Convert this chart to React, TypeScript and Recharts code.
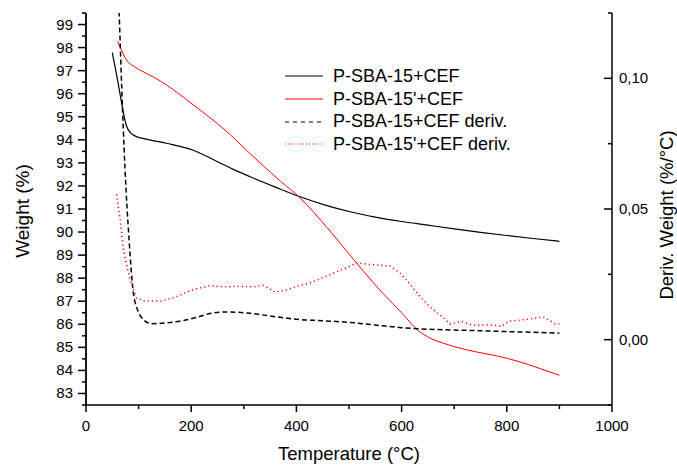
import React from 'react';
import { LineChart, Line, XAxis, YAxis, Legend } from 'recharts';

const FONT = '"Liberation Sans", Arial, Helvetica, sans-serif';

// P-SBA-15+CEF weight (%)
const tempW1 = [50, 55, 60, 65, 70, 77, 85, 95, 110, 153, 204, 250, 280, 312, 360, 407, 455, 502, 550, 597, 650, 700, 750, 800, 850, 900];
const weightW1 = [97.78, 97.2, 96.6, 95.95, 95.3, 94.6, 94.3, 94.15, 94.05, 93.85, 93.55, 93.05, 92.72, 92.4, 91.95, 91.53, 91.17, 90.88, 90.65, 90.47, 90.3, 90.14, 89.99, 89.85, 89.72, 89.6];

// P-SBA-15'+CEF weight (%)
const tempW2 = [60, 66, 77, 90, 109, 130, 153, 185, 217, 250, 280, 312, 331, 370, 407, 460, 515, 565, 600, 632, 650, 686, 736, 781, 825, 863, 900];
const weightW2 = [98.28, 97.97, 97.46, 97.2, 96.95, 96.7, 96.38, 95.85, 95.29, 94.7, 94.1, 93.4, 93.0, 92.2, 91.48, 90.15, 88.64, 87.33, 86.5, 85.72, 85.45, 85.13, 84.83, 84.63, 84.37, 84.08, 83.79];

// P-SBA-15+CEF deriv. (%/°C)
const tempD1 = [58, 63, 68, 74, 82, 90, 100, 109, 125, 150, 185, 210, 236, 267, 312, 356, 407, 455, 502, 550, 600, 650, 700, 750, 800, 850, 900];
const derivD1 = [0.15, 0.125, 0.096, 0.066, 0.038, 0.018, 0.0105, 0.0077, 0.0061, 0.0064, 0.0073, 0.0085, 0.01, 0.0106, 0.0101, 0.0089, 0.0077, 0.0072, 0.0066, 0.0056, 0.0046, 0.004, 0.0037, 0.0034, 0.0031, 0.0028, 0.0025];

// P-SBA-15'+CEF deriv. (%/°C)
const tempD2 = [58, 65, 71, 78, 84, 96, 109, 141, 166, 204, 236, 261, 293, 318, 337, 359, 381, 407, 426, 464, 502, 515, 544, 578, 597, 615, 635, 654, 679, 692, 714, 736, 768, 790, 803, 844, 869, 892, 900];
const derivD2 = [0.0556, 0.046, 0.0345, 0.028, 0.023, 0.016, 0.0149, 0.0147, 0.016, 0.0192, 0.0207, 0.0202, 0.0204, 0.0202, 0.0208, 0.0182, 0.019, 0.0208, 0.0217, 0.0249, 0.0281, 0.0294, 0.0287, 0.0282, 0.0255, 0.0215, 0.0165, 0.0125, 0.0085, 0.006, 0.007, 0.0055, 0.0057, 0.0051, 0.007, 0.0079, 0.0087, 0.0061, 0.006];

const seriesNames = ['P-SBA-15+CEF', "P-SBA-15'+CEF", 'P-SBA-15+CEF deriv.', "P-SBA-15'+CEF deriv."];

const xTicks = [0, 100, 200, 300, 400, 500, 600, 700, 800, 900, 1000];
const leftTicks = [82.5, 83, 83.5, 84, 84.5, 85, 85.5, 86, 86.5, 87, 87.5, 88, 88.5, 89, 89.5, 90, 90.5, 91, 91.5, 92, 92.5, 93, 93.5, 94, 94.5, 95, 95.5, 96, 96.5, 97, 97.5, 98, 98.5, 99, 99.5];
const rightTicks = [-0.025, 0, 0.025, 0.05, 0.075, 0.1, 0.125];

const zip = (ts: number[], vs: number[]) => ts.map((t, i) => ({ t, v: vs[i] }));
const dataW1 = zip(tempW1, weightW1);
const dataW2 = zip(tempW2, weightW2);
const dataD1 = zip(tempD1, derivD1);
const dataD2 = zip(tempD2, derivD2);

const near = (a: number, b: number) => Math.abs(a - b) < 1e-6;

const BottomTick = (props: any) => {
  const { x, y, payload } = props;
  const v = payload.value;
  const major = near(v / 200, Math.round(v / 200));
  return (
    <g>
      <line x1={x} x2={x} y1={y} y2={y + (major ? 7 : 4)} stroke="#000" strokeWidth={1.5} />
      {major && (
        <text x={x} y={y + 26} textAnchor="middle" fontSize={15} fontFamily={FONT} fill="#000">
          {v}
        </text>
      )}
    </g>
  );
};

const LeftTick = (props: any) => {
  const { x, y, payload } = props;
  const v = payload.value;
  const major = near(v, Math.round(v));
  return (
    <g>
      <line x1={x} x2={x - (major ? 8 : 4)} y1={y} y2={y} stroke="#000" strokeWidth={1.5} />
      {major && (
        <text x={x - 13} y={y + 5} textAnchor="end" fontSize={15} fontFamily={FONT} fill="#000">
          {Math.round(v)}
        </text>
      )}
    </g>
  );
};

const RightTick = (props: any) => {
  const { x, y, payload } = props;
  const v = payload.value;
  const major = near(v / 0.05, Math.round(v / 0.05));
  return (
    <g>
      <line x1={x} x2={x - (major ? 8 : 4)} y1={y} y2={y} stroke="#000" strokeWidth={1.5} />
      {major && (
        <text x={x + 7} y={y + 5} textAnchor="start" fontSize={15} fontFamily={FONT} fill="#000">
          {v.toFixed(2).replace('.', ',')}
        </text>
      )}
    </g>
  );
};

const legendStyles = [
  { stroke: '#000', dash: undefined as string | undefined, w: 1.2 },
  { stroke: '#ff0000', dash: undefined as string | undefined, w: 1 },
  { stroke: '#000', dash: '4 4', w: 1.2 },
  { stroke: '#ff0000', dash: '1 2', w: 1.2 },
];

const renderLegend = () => (
  <div style={{ fontFamily: FONT, fontSize: 18, color: '#000' }}>
    {seriesNames.map((name, i) => (
      <div key={name} style={{ height: 22.7, display: 'flex', alignItems: 'center', whiteSpace: 'nowrap' }}>
        <svg width={48} height={10} style={{ display: 'block' }}>
          <line x1={0} x2={38} y1={5} y2={5} stroke={legendStyles[i].stroke} strokeWidth={legendStyles[i].w} strokeDasharray={legendStyles[i].dash} />
        </svg>
        <span style={{ lineHeight: '22.7px' }}>{name}</span>
      </div>
    ))}
  </div>
);

export default function App() {
  return (
    <div style={{ position: 'absolute', left: 0, top: 0, background: '#fff' }}>
      <LineChart width={677} height={465} margin={{ top: 13, right: 0, bottom: 0, left: 0 }}>
        <XAxis
          dataKey="t"
          type="number"
          domain={[0, 1000]}
          ticks={xTicks}
          interval={0}
          allowDataOverflow
          height={60}
          tickLine={false}
          tickSize={0}
          tickMargin={0}
          axisLine={{ stroke: '#000', strokeWidth: 1.5 }}
          tick={(p: any) => <BottomTick {...p} />}
          label={{
            content: () => (
              <text x={349} y={460} textAnchor="middle" fontSize={18.5} fontFamily={FONT} fill="#000">
                Temperature (°C)
              </text>
            ),
          }}
        />
        <YAxis
          yAxisId="w"
          orientation="left"
          type="number"
          domain={[82.5, 99.5]}
          ticks={leftTicks}
          interval={0}
          allowDataOverflow
          width={86}
          tickLine={false}
          tickSize={0}
          tickMargin={0}
          axisLine={{ stroke: '#000', strokeWidth: 1.8 }}
          tick={(p: any) => <LeftTick {...p} />}
          label={{
            content: () => (
              <text x={29} y={211} transform="rotate(-90, 29, 211)" textAnchor="middle" fontSize={19} fontFamily={FONT} fill="#000">
                Weight (%)
              </text>
            ),
          }}
        />
        <YAxis
          yAxisId="d"
          orientation="right"
          type="number"
          domain={[-0.025, 0.125]}
          ticks={rightTicks}
          interval={0}
          allowDataOverflow
          width={65}
          tickLine={false}
          tickSize={0}
          tickMargin={0}
          axisLine={{ stroke: '#000', strokeWidth: 1.5 }}
          tick={(p: any) => <RightTick {...p} />}
          label={{
            content: () => (
              <text x={673} y={215} transform="rotate(-90, 673, 215)" textAnchor="middle" fontSize={18.5} fontFamily={FONT} fill="#000">
                Deriv. Weight (%/°C)
              </text>
            ),
          }}
        />
        <Legend
          layout="vertical"
          align="center"
          verticalAlign="middle"
          wrapperStyle={{ left: 285, top: 65, width: 300 }}
          content={renderLegend}
        />
        <Line data={dataW1} dataKey="v" name={seriesNames[0]} yAxisId="w" type="monotone" stroke="#000" strokeWidth={1.2} dot={false} isAnimationActive={false} />
        <Line data={dataW2} dataKey="v" name={seriesNames[1]} yAxisId="w" type="monotone" stroke="#ff0000" strokeWidth={1} dot={false} isAnimationActive={false} />
        <Line data={dataD1} dataKey="v" name={seriesNames[2]} yAxisId="d" type="monotone" stroke="#000" strokeWidth={1.5} strokeDasharray="5 3" dot={false} isAnimationActive={false} />
        <Line data={dataD2} dataKey="v" name={seriesNames[3]} yAxisId="d" type="linear" stroke="#ff0000" strokeWidth={1.5} strokeDasharray="1.2 3" dot={false} isAnimationActive={false} />
      </LineChart>
    </div>
  );
}
